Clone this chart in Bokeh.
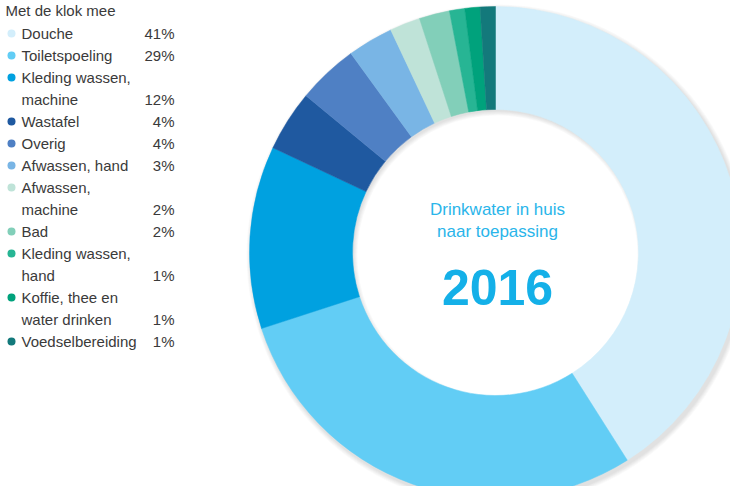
import math
from bokeh.plotting import figure
from bokeh.models import Range1d, ColumnDataSource
from bokeh.core.properties import value
from bokeh.embed import file_html
from bokeh.resources import INLINE

# ---- data ----
categories = ["Douche", "Toiletspoeling", "Kleding wassen,\nmachine", "Wastafel", "Overig",
              "Afwassen, hand", "Afwassen,\nmachine", "Bad", "Kleding wassen,\nhand",
              "Koffie, thee en\nwater drinken", "Voedselbereiding"]
shares = [41, 29, 12, 4, 4, 3, 2, 2, 1, 1, 1]
colors = ["#d3eefb", "#62cdf5", "#00a1e0", "#1f59a0", "#4f80c4", "#79b5e5",
          "#bfe3d8", "#82cfb9", "#27b594", "#00a27c", "#13797b"]
legend_title = "Met de klok mee"
center_lines = ["Drinkwater in huis", "naar toepassing"]
year_label = "2016"

W, H = 730, 486
p = figure(width=W, height=H, output_backend="svg", toolbar_location=None,
           x_range=Range1d(0, W), y_range=Range1d(0, H), min_border=0)
p.axis.visible = False
p.grid.visible = False
p.outline_line_color = None
p.background_fill_color = "white"

cx, cy = 495, 234
r_out, r_in = 246, 143

# soft shadow
for i in range(6):
    p.annular_wedge(x=cx + 2, y=cy - 3, inner_radius=r_in - 3 + i * 0.8, outer_radius=r_out + 5 - i * 0.8,
                    start_angle=0, end_angle=2 * math.pi, fill_color="#000000", fill_alpha=0.018,
                    line_color=None)

total = sum(shares)
starts, ends = [], []
cum = 0.0
for s in shares:
    a0 = math.pi / 2 - (cum + s) / total * 2 * math.pi
    a1 = math.pi / 2 - cum / total * 2 * math.pi
    starts.append(a0)
    ends.append(a1)
    cum += s
src = ColumnDataSource(dict(start=starts, end=ends, color=colors))
p.annular_wedge(x=cx, y=cy, inner_radius=r_in, outer_radius=r_out, start_angle="start",
                end_angle="end", fill_color="color", line_color="color", line_width=0.5, source=src)

# centre text
fnt = value("Liberation Sans")
p.text(x=[cx + 2, cx + 2], y=[H - (217 - 8), H - (239 - 8)], text=center_lines, text_font=fnt,
       text_font_size="17px", text_color="#2ab5ea", text_align="center", text_baseline="middle")
p.text(x=[cx + 2], y=[H - (295 - 8)], text=[year_label], text_font=fnt, text_font_size="50px",
       text_font_style="bold", text_color="#14b0e8", text_align="center", text_baseline="middle")

# legend
p.text(x=[5], y=[H - (18 - 8)], text=[legend_title], text_font=fnt, text_font_size="15px",
       text_color="#3a3a3a", text_baseline="middle")
row = 0
dot_x, dot_y, lab_x, lab_y, lab_t, pct_y, pct_t = [], [], [], [], [], [], []
for cat, s in zip(categories, shares):
    lines = cat.split("\n")
    y0 = H - (41 - 8) - row * 22
    dot_x.append(11)
    dot_y.append(y0)
    for j, ln in enumerate(lines):
        lab_x.append(21)
        lab_y.append(y0 - j * 22)
        lab_t.append(ln)
    pct_y.append(y0 - (len(lines) - 1) * 22)
    pct_t.append(f"{s}%")
    row += len(lines)
p.scatter(x=dot_x, y=dot_y, size=8, marker="circle", fill_color=colors, line_color=None)
p.text(x=lab_x, y=lab_y, text=lab_t, text_font=fnt, text_font_size="15px", text_color="#3a3a3a",
       text_baseline="middle")
p.text(x=[174] * len(pct_t), y=pct_y, text=pct_t, text_font=fnt, text_font_size="15px",
       text_color="#3a3a3a", text_baseline="middle", text_align="right")

open("out.html", "w").write(file_html(p, INLINE))
